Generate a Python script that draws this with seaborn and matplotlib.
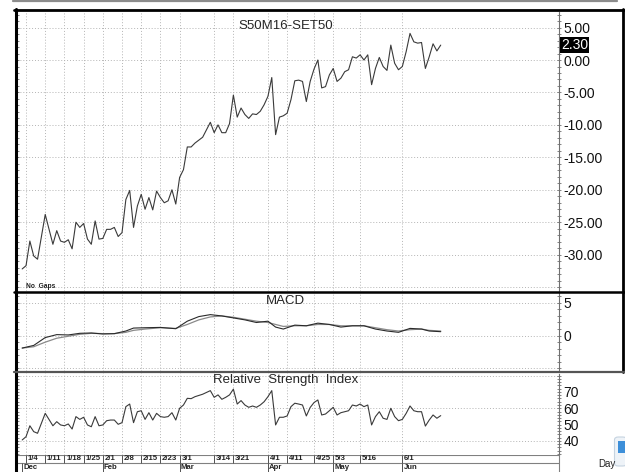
import matplotlib
matplotlib.use("Agg")
import matplotlib.pyplot as plt
import matplotlib.transforms as mtransforms
from matplotlib.lines import Line2D
from matplotlib.patches import Rectangle, FancyBboxPatch
from matplotlib.ticker import MultipleLocator
import pandas as pd
import seaborn as sns

# trading-day number of each vertex (0 = last session of Dec)
day = [0, 1, 2, 3, 4, 6, 8, 9, 10, 11, 12, 13, 14, 15, 16, 17, 18, 19, 20, 21,
       22, 23, 24, 25, 26, 27, 28, 29, 30, 31, 32, 33, 34, 35, 36, 37, 38, 39, 40, 41,
       42, 43, 44, 45, 47, 49, 50, 51, 52, 53, 54, 55, 56, 57, 58, 59, 60, 61, 62, 63,
       64, 65, 66, 67, 68, 69, 70, 71, 72, 73, 74, 75, 76, 77, 78, 79, 80, 81, 82, 83,
       84, 85, 86, 87, 88, 89, 90, 91, 92, 93, 94, 95, 96, 97, 98, 99, 100, 101, 102, 103,
       104, 105, 106, 107, 108, 109]
price = [-32.2, -31.7, -27.9, -30.2, -30.7, -23.8, -28.4, -26.3, -27.9, -28.1, -27.7, -29.1, -25.0, -25.8, -25.2, -27.6, -28.4, -24.8, -27.6, -27.5,
         -26.1, -26.1, -25.8, -27.2, -26.6, -21.5, -20.1, -25.8, -22.5, -20.7, -23.0, -21.2, -23.1, -20.2, -21.2, -22.0, -21.7, -20.0, -22.2, -18.1,
         -16.9, -13.4, -13.4, -12.8, -11.9, -9.6, -11.2, -10.0, -11.2, -11.2, -9.8, -5.4, -8.8, -7.4, -8.4, -9.0, -8.3, -8.4, -7.9, -6.9,
         -5.6, -2.7, -11.5, -8.8, -8.6, -8.2, -6.1, -3.2, -3.1, -3.3, -6.4, -3.3, -1.4, 0.0, -4.3, -4.1, -2.3, -1.3, -3.3, -2.8,
         -1.8, -1.5, 0.5, 0.3, 0.8, 0.0, 0.8, -3.8, -1.3, 0.4, -1.0, -1.6, 2.3, -0.5, -1.5, -1.0, 1.3, 4.1, 2.8, 2.6,
         2.7, -1.3, 0.5, 2.5, 1.4, 2.3]
rsi = [40.6, 42.6, 49.3, 45.7, 44.7, 56.9, 49.3, 51.8, 49.8, 49.3, 50.4, 47.3, 54.9, 53.2, 54.5, 49.8, 48.7, 54.9, 49.3, 49.8,
       52.4, 52.8, 52.8, 50.2, 51.2, 61.0, 62.6, 51.2, 57.9, 58.5, 53.2, 57.3, 52.8, 56.9, 54.9, 54.5, 54.9, 57.3, 52.8, 60.0,
       62.0, 66.1, 65.9, 67.1, 68.6, 70.8, 66.7, 68.2, 65.5, 66.7, 68.2, 71.7, 62.6, 64.7, 62.0, 60.6, 61.4, 60.6, 62.0, 64.0,
       67.1, 70.8, 49.8, 54.5, 54.5, 55.3, 61.0, 63.1, 62.6, 62.0, 55.3, 60.5, 63.5, 65.1, 55.9, 56.5, 58.5, 60.6, 55.9, 57.3,
       57.9, 58.5, 62.0, 61.4, 62.6, 61.0, 62.0, 49.8, 54.9, 57.9, 53.9, 53.2, 60.0, 54.9, 52.4, 53.2, 56.9, 61.4, 58.5, 57.9,
       57.9, 49.1, 52.8, 55.9, 53.9, 55.5]

macd_day = [0, 3, 6, 9, 12, 15, 18, 21, 24, 27, 29, 32, 36, 40, 43, 46, 49, 52, 55, 58,
            61, 64, 66, 68, 71, 74, 77, 80, 83, 86, 89, 92, 95, 98, 101, 104, 106, 109]
macd = [-1.9, -1.5, -0.3, 0.15, 0.1, 0.35, 0.4, 0.25, 0.3, 0.7, 1.15, 1.2, 1.25, 1.05, 2.2, 2.9, 3.2, 3.0, 2.7, 2.4,
        2.0, 2.2, 1.3, 1.0, 1.6, 1.5, 1.9, 1.7, 1.3, 1.5, 1.5, 1.0, 0.7, 0.5, 1.1, 1.0, 0.7, 0.6]
signal = [-1.9, -1.7, -1.0, -0.4, -0.1, 0.2, 0.35, 0.3, 0.3, 0.5, 0.8, 1.0, 1.2, 1.1, 1.7, 2.4, 2.85, 3.0, 2.8, 2.5,
          2.2, 2.0, 1.7, 1.4, 1.5, 1.5, 1.7, 1.7, 1.5, 1.5, 1.5, 1.2, 0.9, 0.7, 0.9, 1.0, 0.8, 0.7]

tick_days = [1, 6, 11, 16, 21, 26, 31, 36, 41, 50, 55, 64, 69, 76, 81, 88, 99]
tick_labels = ['1/4', '1/11', '1/18', '1/25', '2/1', '2/8', '2/15', '2/23', '3/1',
               '3/14', '3/21', '4/1', '4/11', '4/25', '5/3', '5/16', '6/1']
month_days = [0, 21, 41, 64, 81, 99]
month_labels = ['Dec', 'Feb', 'Mar', 'Apr', 'May', 'Jun']

W, H = 625, 472
sns.set_style("white")
plt.rcParams['font.family'] = ['Liberation Sans', 'DejaVu Sans']

fig = plt.figure(figsize=(W / 100, H / 100), dpi=100)


def rect(top, bottom, left=17, right=559):
    return [left / W, 1 - bottom / H, (right - left) / W, (bottom - top) / H]


def fig_line(x0, y0, x1, y1, **kw):
    fig.add_artist(Line2D([x0 / W, x1 / W], [1 - y0 / H, 1 - y1 / H],
                          transform=fig.transFigure, **kw))


ax1 = fig.add_axes(rect(12, 291))
ax2 = fig.add_axes(rect(293, 371), sharex=ax1)
ax3 = fig.add_axes(rect(373, 455), sharex=ax1)
axd = fig.add_axes(rect(455, 472), sharex=ax1)

pdf = pd.DataFrame({'day': day, 'price': price, 'rsi': rsi})
mdf = pd.DataFrame({'day': macd_day, 'macd': macd, 'signal': signal})

sns.lineplot(data=pdf, x='day', y='price', ax=ax1, color='#3a3a3a', lw=0.8, estimator=None)
sns.lineplot(data=mdf, x='day', y='signal', ax=ax2, color='#8a8a8a', lw=0.9, estimator=None)
sns.lineplot(data=mdf, x='day', y='macd', ax=ax2, color='#2a2a2a', lw=0.8, estimator=None)
sns.lineplot(data=pdf, x='day', y='rsi', ax=ax3, color='#3a3a3a', lw=0.8, estimator=None)

grid_kw = dict(color='#b4b4b4', lw=0.7, ls=(0, (1, 2)), zorder=0)
panels = [
    (ax1, (-35.6, 7.4), list(range(-30, 6, 5)), '{:.2f}', list(range(-35, 6, 5)), 1),
    (ax2, (-5.4, 6.5), [0, 5], '{:d}', [-5, 0, 5], 1),
    (ax3, (31.4, 81.6), [40, 50, 60, 70], '{:d}', [40, 60, 80], 2),
]
for ax, ylim, yt, fmt, grid, minor in panels:
    ax.set_xlim(-1.35, 139.8)
    ax.set_ylim(*ylim)
    ax.set_xlabel('')
    ax.set_ylabel('')
    for s in ax.spines.values():
        s.set_visible(False)
    ax.spines['right'].set_visible(True)
    ax.spines['right'].set_color('#707070')
    ax.spines['right'].set_linestyle((0, (1, 1)))
    ax.spines['right'].set_linewidth(0.8)
    ax.yaxis.tick_right()
    ax.set_yticks(yt)
    ax.set_yticklabels([fmt.format(v) for v in yt])
    ax.yaxis.set_minor_locator(MultipleLocator(minor))
    ax.tick_params(axis='y', which='both', direction='inout', length=3, width=0.6,
                   color='#707070', pad=1.5, labelsize=10, labelcolor='#111111',
                   left=True, right=True)
    ax.set_xticks(tick_days)
    ax.tick_params(axis='x', length=0, labelbottom=False)
    ax.grid(axis='x', **grid_kw)
    for g in grid:
        ax.axhline(g, **grid_kw)
    ax.set_facecolor('white')

# titles
ax1.text(0.495, 0.972, 'S50M16-SET50', transform=ax1.transAxes, ha='center', va='top', fontsize=9.5)
ax2.text(0.495, 0.97, 'MACD', transform=ax2.transAxes, ha='center', va='top', fontsize=9.5)
ax3.text(0.495, 0.985, 'Relative  Strength  Index', transform=ax3.transAxes, ha='center', va='top', fontsize=9.5)
ax1.text(0.017, 0.005, 'No  Gaps', transform=ax1.transAxes, ha='left', va='bottom',
         fontsize=4.8, fontweight='bold', color='#222222')

# last value tag
trans = mtransforms.blended_transform_factory(ax1.transAxes, ax1.transData)
ax1.text(1.0037, price[-1], f'{price[-1]:.2f}', transform=trans, ha='left', va='center',
         fontsize=10, color='white', clip_on=False,
         bbox=dict(boxstyle='square,pad=0.08', fc='black', ec='none'))

# date strip
axd.set_ylim(0, 1)
axd.axis('off')
axd.set_xlim(-1.35, 139.8)
mid = (472 - 463) / 17
axd.axhline(1, color='#808080', lw=0.8)
axd.axhline(mid, color='#808080', lw=0.8)
axd.vlines(tick_days, mid, 1, color='#505050', lw=0.7)
for d, lab in zip(tick_days, tick_labels):
    axd.text(d + 0.45, 0.77, lab, ha='left', va='center', fontsize=5.6, fontweight='bold', color='#222222')
axd.vlines(month_days, 0, mid, color='#505050', lw=0.7)
for d, lab in zip(month_days, month_labels):
    axd.text(d + 0.3, 0.27, lab, ha='left', va='center', fontsize=5.6, fontweight='bold', color='#222222')

# window frame and panel separators
fig_line(13, 1.2, 617, 1.2, color='#8c8c8c', lw=1.6)
fig_line(15.5, 9, 15.5, 472, color='black', lw=2.2)
fig_line(14, 10.3, 624, 10.3, color='black', lw=2.0)
fig_line(622.8, 9, 622.8, 372, color='black', lw=2.0)
fig_line(14, 291.8, 625, 291.8, color='black', lw=1.8)
fig_line(14, 372.2, 625, 372.2, color='#555555', lw=1.6)
fig_line(559, 455, 559, 472, color='#808080', lw=0.8)

fig.text(598 / W, 1 - 464 / H, 'Day', fontsize=7, color='#222222', va='center')
fig.add_artist(FancyBboxPatch((614.5 / W, 1 - 466 / H), 12 / W, 29 / H,
                              boxstyle='round,pad=0,rounding_size=0.006',
                              transform=fig.transFigure, fc='#eef3f8', ec='#c5d3e0', lw=0.8))
fig.add_artist(Rectangle((618 / W, 1 - 453 / H), 7 / W, 12 / H, transform=fig.transFigure,
                         fc='#3d8fd9', ec='none'))

fig.savefig('out.png', dpi=100)
